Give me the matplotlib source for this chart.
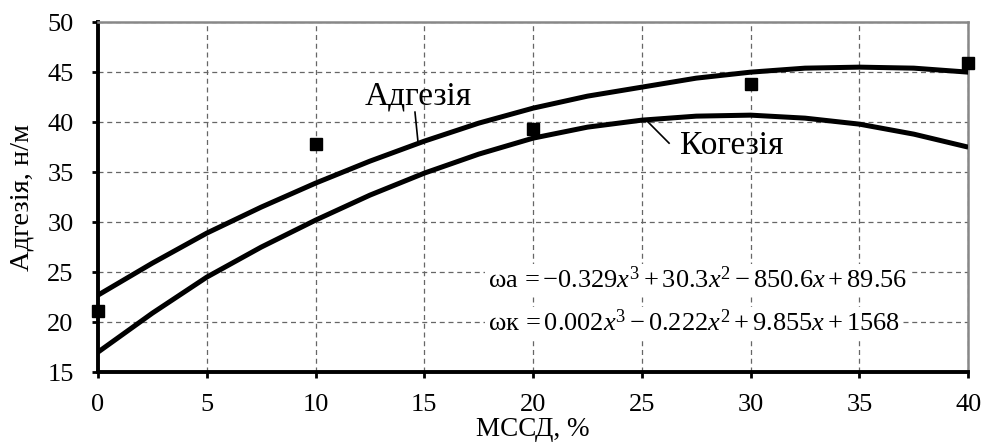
import matplotlib
matplotlib.use("Agg")
import matplotlib.pyplot as plt

plt.rcParams['font.family'] = ['Liberation Serif', 'DejaVu Serif']
plt.rcParams['mathtext.fontset'] = 'custom'
plt.rcParams['mathtext.rm'] = 'Liberation Serif'
plt.rcParams['mathtext.it'] = 'Liberation Serif:italic'

# experimental points
x_pts = [0, 10, 20, 30, 40]
y_pts = [21.1, 37.8, 39.3, 43.8, 45.9]

# trend curves
x_curve = [0, 2.5, 5, 7.5, 10, 12.5, 15, 17.5, 20, 22.5, 25, 27.5, 30, 32.5, 35, 37.5, 40]
adhesion = [22.7, 25.9, 28.9, 31.5, 33.9, 36.1, 38.1, 39.9, 41.4, 42.6, 43.5, 44.4, 45.0, 45.4, 45.5, 45.4, 45.0]
cohesion = [17.0, 20.9, 24.5, 27.5, 30.2, 32.7, 34.9, 36.8, 38.4, 39.5, 40.2, 40.6, 40.7, 40.4, 39.8, 38.8, 37.5]

x_ticks = [0, 5, 10, 15, 20, 25, 30, 35, 40]
y_ticks = [15, 20, 25, 30, 35, 40, 45, 50]

fig = plt.figure(figsize=(9.92, 4.43), dpi=100)
ax = fig.add_axes([0.0988, 0.160, 0.8772, 0.790])

ax.plot(x_curve, adhesion, color='black', lw=3.6, solid_capstyle='butt', zorder=3)
ax.plot(x_curve, cohesion, color='black', lw=3.6, solid_capstyle='butt', zorder=3)
ax.plot(x_pts, y_pts, 's', color='black', ms=8.5, clip_on=False, zorder=4)

ax.set_xlim(0, 40)
ax.set_ylim(15, 50)
ax.set_xticks(x_ticks)
ax.set_yticks(y_ticks)
ax.grid(True, ls=(0, (4, 3)), color='#666666', lw=0.9)
ax.set_axisbelow(True)

for s in ['left', 'bottom']:
    ax.spines[s].set_linewidth(2.8)
    ax.spines[s].set_color('black')
for s in ['top', 'right']:
    ax.spines[s].set_linewidth(1.8)
    ax.spines[s].set_color('#888888')
ax.tick_params(axis='y', direction='out', length=4.5, width=2, labelsize=19, pad=13)
ax.tick_params(axis='x', direction='out', length=4.5, width=2, labelsize=19, pad=11.5)

ax.set_xlabel('МССД, %', fontsize=19.5, labelpad=0.5)
ax.set_ylabel('Адгезія, н/м', fontsize=20.5, labelpad=9)

# curve labels with leader lines
ax.text(14.71, 42.6, 'Адгезія', fontsize=24, ha='center', va='center')
ax.plot([14.57, 14.71], [41.0, 38.0], color='black', lw=1.2)
ax.text(29.15, 37.6, 'Когезія', fontsize=24, ha='center', va='center')
ax.plot([25.29, 26.25], [40.0, 37.9], color='black', lw=1.2)

bbox = dict(facecolor='white', edgecolor='none', pad=2)
ax.text(17.93, 24.2, r'ωa$\,=-0.329x^{3}+30.3x^{2}-850.6x+89.56$',
        fontsize=19, ha='left', va='center', bbox=bbox, zorder=5)
ax.text(17.93, 19.9, r'ωк$\,=0.002x^{3}-0.222x^{2}+9.855x+1568$',
        fontsize=19, ha='left', va='center', bbox=bbox, zorder=5)

fig.savefig('out.png', dpi=100)
